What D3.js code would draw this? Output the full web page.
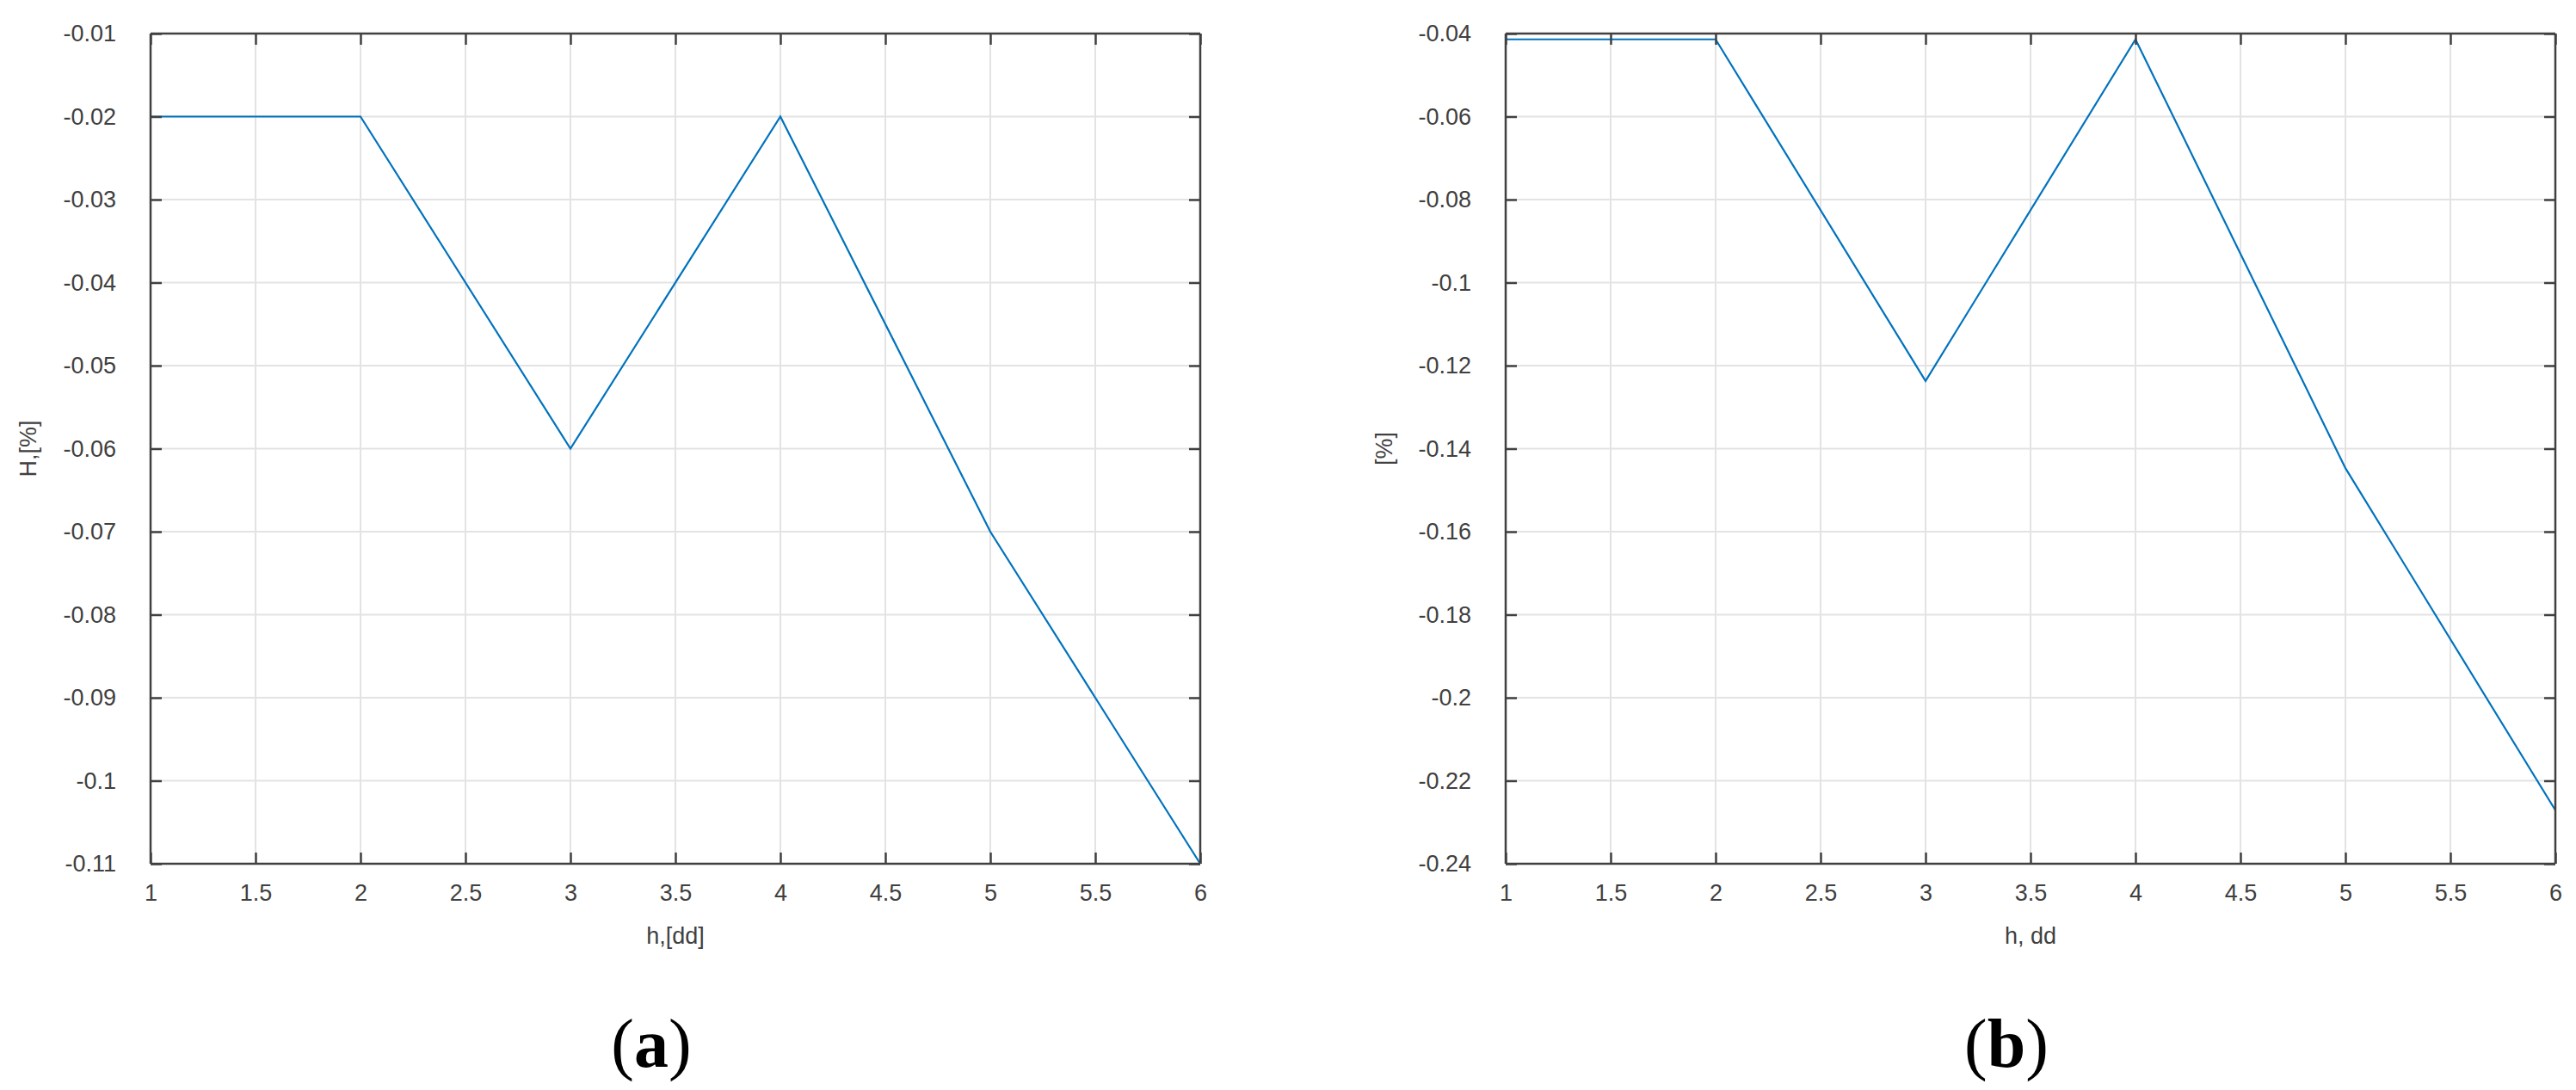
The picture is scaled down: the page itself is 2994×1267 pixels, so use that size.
<!DOCTYPE html>
<html><head><meta charset="utf-8">
<script src="https://cdn.jsdelivr.net/npm/d3@7"></script>
<style>body{margin:0;background:#fff}svg{display:block}</style>
</head><body>
<svg id="c" width="2994" height="1267"></svg>
<script>
const xValues = [1, 2, 3, 4, 5, 6];
const seriesA = [-0.02, -0.02, -0.06, -0.02, -0.07, -0.11];
const seriesB = [-0.0414, -0.0414, -0.1237, -0.0414, -0.1447, -0.2271];
const xTicks = [1, 1.5, 2, 2.5, 3, 3.5, 4, 4.5, 5, 5.5, 6];
const yTicksA = [-0.01, -0.02, -0.03, -0.04, -0.05, -0.06, -0.07, -0.08, -0.09, -0.1, -0.11];
const yTicksB = [-0.04, -0.06, -0.08, -0.1, -0.12, -0.14, -0.16, -0.18, -0.2, -0.22, -0.24];
const panels = [
  {left: 175, right: 1395, yDomain: [-0.11, -0.01], yTicks: yTicksA, data: seriesA, xLabel: "h,[dd]", yLabel: "H,[%]", yLabelX: 33, tag: "(a)"},
  {left: 1750, right: 2970, yDomain: [-0.24, -0.04], yTicks: yTicksB, data: seriesB, xLabel: "h, dd", yLabel: "[%]", yLabelX: 1609, tag: "(b)"}
];
const plotTop = 39, plotBottom = 1004;
const axisColor = "#404040", gridColor = "#e3e3e3", lineColor = "#0072BD";
const svg = d3.select("#c");
const fmt = d => String(+d.toFixed(3));

panels.forEach(p => {
  const x = d3.scaleLinear().domain([1, 6]).range([p.left, p.right]);
  const y = d3.scaleLinear().domain(p.yDomain).range([plotBottom, plotTop]);
  const g = svg.append("g");
  g.selectAll(".gx").data(xTicks).join("line")
    .attr("x1", d => x(d)).attr("x2", d => x(d)).attr("y1", plotTop).attr("y2", plotBottom)
    .attr("stroke", gridColor).attr("stroke-width", 2);
  g.selectAll(".gy").data(p.yTicks).join("line")
    .attr("y1", d => y(d)).attr("y2", d => y(d)).attr("x1", p.left).attr("x2", p.right)
    .attr("stroke", gridColor).attr("stroke-width", 2);
  const line = d3.line().x((d, i) => x(xValues[i])).y(d => y(d));
  g.append("path").datum(p.data).attr("d", line).attr("fill", "none")
    .attr("stroke", lineColor).attr("stroke-width", 2.2);
  const tl = 13;
  const axB = d3.axisBottom(x).tickValues(xTicks).tickSize(-tl).tickPadding(24).tickFormat(fmt);
  const axT = d3.axisTop(x).tickValues(xTicks).tickSize(-tl).tickFormat("");
  const axL = d3.axisLeft(y).tickValues(p.yTicks).tickSize(-tl).tickPadding(40).tickFormat(fmt);
  const axR = d3.axisRight(y).tickValues(p.yTicks).tickSize(-tl).tickFormat("");
  const style = sel => {
    sel.selectAll("path.domain").attr("stroke", axisColor).attr("stroke-width", 2.5);
    sel.selectAll(".tick line").attr("stroke", axisColor).attr("stroke-width", 2.5);
    sel.selectAll(".tick text").attr("fill", axisColor)
      .style("font-family", "'Liberation Sans', Arial, sans-serif").style("font-size", "27px");
  };
  g.append("g").attr("transform", `translate(0,${plotBottom})`).call(axB).call(style)
    .selectAll("path.domain").attr("d", `M${p.left},0H${p.right}`);
  g.append("g").attr("transform", `translate(0,${plotTop})`).call(axT).call(style)
    .selectAll("path.domain").attr("d", `M${p.left},0H${p.right}`);
  g.append("g").attr("transform", `translate(${p.left},0)`).call(axL).call(style)
    .selectAll("path.domain").attr("d", `M0,${plotTop}V${plotBottom}`);
  g.append("g").attr("transform", `translate(${p.right},0)`).call(axR).call(style)
    .selectAll("path.domain").attr("d", `M0,${plotTop}V${plotBottom}`);
  g.append("text").attr("x", (p.left + p.right) / 2).attr("y", 1097)
    .attr("text-anchor", "middle").attr("fill", axisColor)
    .style("font-family", "'Liberation Sans', Arial, sans-serif").style("font-size", "27px")
    .text(p.xLabel);
  g.append("text").attr("transform", `translate(${p.yLabelX + 9},${(plotTop + plotBottom) / 2}) rotate(-90)`)
    .attr("text-anchor", "middle").attr("fill", axisColor)
    .style("font-family", "'Liberation Sans', Arial, sans-serif").style("font-size", "27px")
    .text(p.yLabel);
  const t = g.append("text").attr("x", (p.left + p.right) / 2 - 28).attr("y", 1240)
    .attr("text-anchor", "middle").attr("fill", "#000")
    .style("font-family", "'Liberation Serif', 'Times New Roman', serif").style("font-size", "80px");
  t.append("tspan").text("(");
  t.append("tspan").style("font-weight", "bold").text(p.tag.slice(1, 2));
  t.append("tspan").text(")");
});
</script>
</body></html>
